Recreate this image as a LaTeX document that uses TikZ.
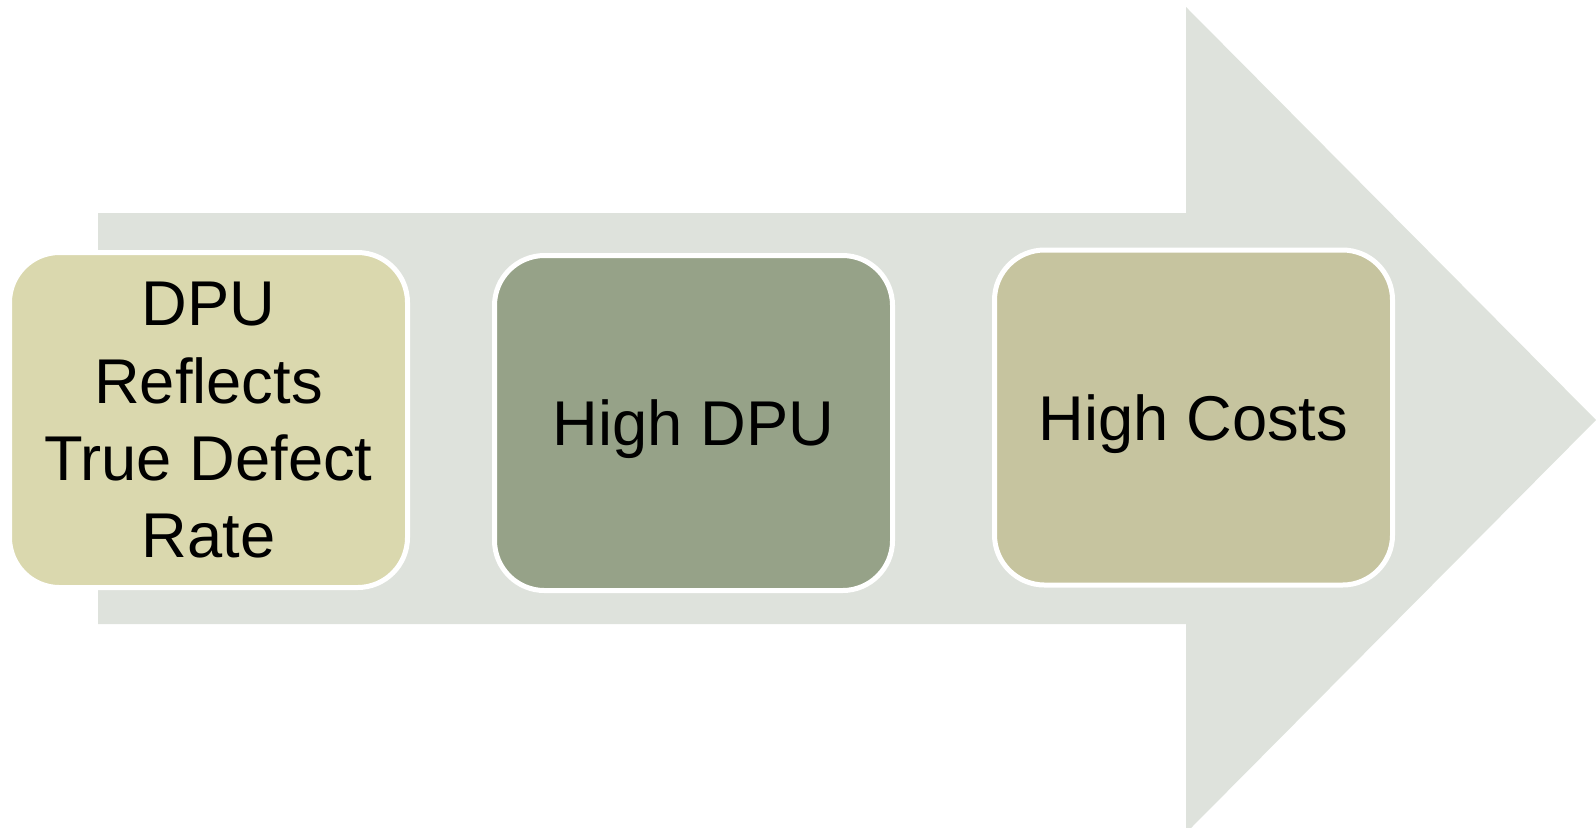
\documentclass[tikz,border=0pt]{standalone}
\usepackage{fontspec}
\setmainfont{Liberation Sans}
\usepackage{xcolor}
\usepackage{tikz}
\usetikzlibrary{positioning}

\definecolor{arrowgray}{HTML}{DEE2DC}
\definecolor{boxa}{HTML}{DAD8AE}
\definecolor{boxb}{HTML}{96A288}
\definecolor{boxc}{HTML}{C6C49F}

\begin{document}
\begin{tikzpicture}[x=0.1mm, y=-0.1mm,
		stage/.style={draw=white, line width=0.5mm, rounded corners=0.5cm,
			minimum width=3.98cm, minimum height=3.35cm, inner sep=0pt,
			text depth=0pt, align=center, font=\fontsize{18}{22}\selectfont}]
		\useasboundingbox (0,0) rectangle (1596,827);

		% big arrow behind the stages
		\fill[arrowgray] (98,213) -- (1186,213) -- (1186,7) -- (1596,420)
		-- (1186,833) -- (1186,624) -- (98,624) -- cycle;

		\node[stage, fill=boxa] (dpu) at (208.5,420) {DPU\\Reflects\\True Defect\\Rate};
		\node[stage, fill=boxb] (high) at (693.5,423) {High DPU};
		\node[stage, fill=boxc] (costs) at (1193.5,417.5) {High Costs};
	\end{tikzpicture}
\end{document}
